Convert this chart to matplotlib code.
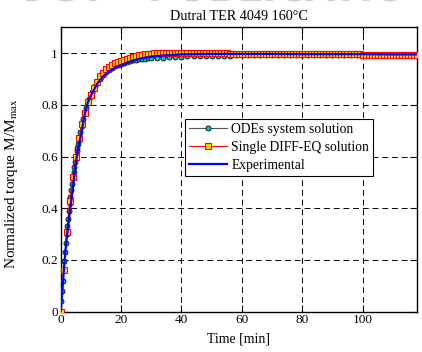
import matplotlib

matplotlib.use("Agg")

import matplotlib.pyplot as plt
import numpy as np

plt.rcParams["font.family"] = ["Liberation Serif", "DejaVu Serif"]
plt.rcParams["mathtext.fontset"] = "stix"

# ODEs system solution (dense steps at the start)
t_ode = np.concatenate([np.arange(0, 6.01, 0.25), np.arange(6.5, 12.01, 0.5),
                        np.arange(13, 30.01, 1), np.arange(32, 118.01, 2)])
y_ode = [
    0, 0.04, 0.08, 0.12, 0.16, 0.195, 0.23, 0.265, 0.30, 0.33, 0.36, 0.39, 0.42,
    0.445, 0.47, 0.495, 0.52, 0.54, 0.56, 0.58, 0.60, 0.62, 0.635, 0.65, 0.665,
    0.695, 0.72, 0.745, 0.768, 0.788, 0.806, 0.822, 0.837, 0.85, 0.862, 0.873, 0.883,
    0.90, 0.914, 0.926, 0.936, 0.944, 0.95, 0.955, 0.959, 0.963, 0.966, 0.969, 0.972,
    0.974, 0.976, 0.978, 0.979, 0.98, 0.981,
    0.982, 0.983, 0.984, 0.985, 0.986, 0.987, 0.988, 0.988, 0.989, 0.989, 0.990,
    0.990, 0.990, 0.991, 0.991, 0.991, 0.992, 0.992, 0.992, 0.992, 0.993, 0.993,
    0.993, 0.993, 0.993, 0.993, 0.994, 0.994, 0.994, 0.994, 0.994, 0.994, 0.994,
    0.994, 0.994, 0.994, 0.994, 0.994, 0.994, 0.994, 0.994, 0.994, 0.994, 0.994,
]

# single DIFF-EQ solution, one value per minute
t_single = np.arange(0, 119, 1)
y_single = [
    0, 0.16, 0.31, 0.43, 0.52, 0.60, 0.67, 0.725, 0.77, 0.81,
    0.84, 0.865, 0.89, 0.91, 0.925, 0.937, 0.947, 0.955, 0.961, 0.966,
    0.97, 0.975, 0.979, 0.983, 0.986, 0.989, 0.991, 0.993, 0.995, 0.997,
    0.998, 0.999, 1.0, 1.0, 1.001, 1.001, 1.001, 1.001, 1.001, 1.001,
    1.001, 1.001, 1.001, 1.001, 1.001, 1.001, 1.001, 1.001, 1.001, 1.001,
    1.0, 1.0, 1.0, 0.999, 0.999, 0.999, 0.998, 0.998, 0.998, 0.998,
    0.997, 0.997, 0.997, 0.997, 0.997, 0.997, 0.997, 0.997, 0.997, 0.997,
    0.997, 0.997, 0.996, 0.996, 0.996, 0.996, 0.996, 0.996, 0.996, 0.996,
    0.996, 0.996, 0.996, 0.996, 0.996, 0.996, 0.996, 0.996, 0.996, 0.996,
    0.995, 0.995, 0.995, 0.995, 0.995, 0.995, 0.995, 0.995, 0.995, 0.995,
    0.994, 0.994, 0.994, 0.994, 0.994, 0.994, 0.994, 0.994, 0.994, 0.994,
    0.993, 0.993, 0.993, 0.993, 0.993, 0.992, 0.992, 0.992, 0.992,
]

# experimental curve
t_exp = [0, 0.5, 1, 1.5, 2, 2.5, 3, 3.5, 4, 5, 6, 7, 8, 9, 10, 12, 14, 16, 18, 20,
         23, 26, 30, 35, 40, 50, 60, 70, 80, 90, 100, 110, 118]
y_exp = [0, 0.07, 0.15, 0.225, 0.285, 0.335, 0.38, 0.43, 0.475, 0.575, 0.645, 0.70,
         0.765, 0.81, 0.835, 0.88, 0.91, 0.93, 0.943, 0.952, 0.968, 0.978, 0.987,
         0.992, 0.995, 0.997, 0.997, 0.997, 0.996, 0.996, 0.996, 0.995, 0.995]

x_ticks = [0, 20, 40, 60, 80, 100]
y_ticks = [0, 0.2, 0.4, 0.6, 0.8, 1]
y_tick_labels = ["0", "0.2", "0.4", "0.6", "0.8", "1"]

fig = plt.figure(figsize=(4.22, 3.52), dpi=100)
ax = fig.add_axes([0.1438, 0.1145, 0.8442, 0.808])

# faint publisher watermark, only its lower part shows at the top edge
fig.text(0.5, 0.995, "OGY   PUBLICATIO", color="#d0d0d0", fontsize=28, fontweight="bold",
         family="DejaVu Sans", va="baseline", ha="center")

ax.plot(t_ode, y_ode, color="#555555", linewidth=0.8, marker="o", markersize=3.6,
        markerfacecolor="#00c8c8", markeredgecolor="black", markeredgewidth=0.6,
        label="ODEs system solution", zorder=3)
ax.plot(t_single, y_single, color="red", linewidth=0.8, marker="s", markersize=4.6,
        markerfacecolor="#ffd800", markeredgecolor="red", markeredgewidth=0.8,
        label="Single DIFF-EQ solution", zorder=4)
ax.plot(t_exp, y_exp, color="#0000ff", linewidth=1.6, label="Experimental", zorder=5)

ax.set_xlim(0, 118)
ax.set_ylim(0, 1.1)
ax.set_xticks(x_ticks)
ax.set_yticks(y_ticks)
ax.set_yticklabels(y_tick_labels)
ax.tick_params(direction="in", top=True, right=True, length=5, width=0.8, labelsize=9.5,
               pad=2)
ax.grid(True, color="black", linestyle=(0, (6, 4)), linewidth=0.7)
for spine in ax.spines.values():
    spine.set_linewidth(1.0)

ax.set_title("Dutral TER 4049 160°C", fontsize=10.2, pad=5)
ax.set_xlabel("Time [min]", fontsize=10, labelpad=4)
ax.set_ylabel(r"Normalized torque M/M$_{\mathrm{max}}$", fontsize=11)
ax.yaxis.set_label_coords(-0.114, 0.45)

leg = ax.legend(loc="upper left", bbox_to_anchor=(0.349, 0.677), borderaxespad=0,
                fontsize=9.8, handlelength=2.8, fancybox=False, framealpha=1,
                edgecolor="black", borderpad=0.3, labelspacing=0.35, handletextpad=0.3)
leg.get_frame().set_linewidth(0.8)

fig.savefig("out.png", dpi=100)
